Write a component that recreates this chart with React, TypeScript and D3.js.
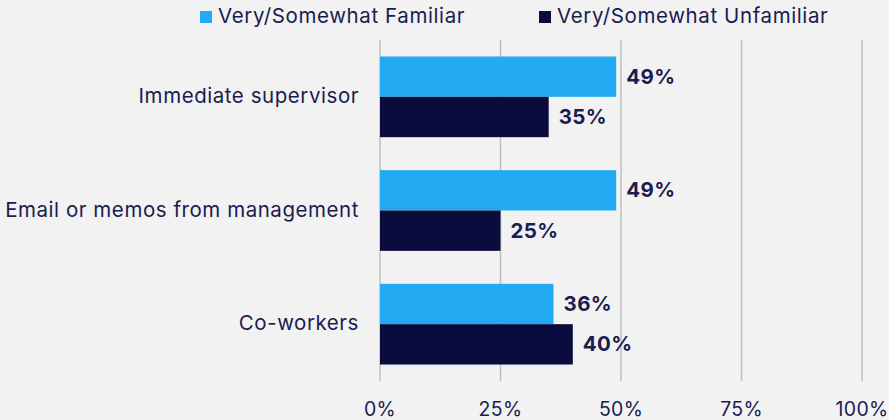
import React, { useRef, useEffect } from "react";
import * as d3 from "d3";

const categories = ["Immediate supervisor", "Email or memos from management", "Co-workers"];
const seriesNames = ["Very/Somewhat Familiar", "Very/Somewhat Unfamiliar"];
const familiar = [49, 49, 36];
const unfamiliar = [35, 25, 40];
const ticks = [0, 25, 50, 75, 100];
const colors = ["#22abf2", "#0a0c3e"];

const App = () => {
  const svgRef = useRef<SVGSVGElement>(null);

  useEffect(() => {
    document.body.style.margin = "0";
    const svg = d3.select(svgRef.current);
    svg.selectAll("*").remove();

    const width = 889;
    const height = 420;
    const font = "Inter, 'Noto Sans', sans-serif";
    const textColor = "#1b1c4f";

    svg.attr("width", width).attr("height", height);
    svg.append("rect").attr("width", width).attr("height", height).attr("fill", "#f2f2f2");

    const x = d3.scaleLinear().domain([0, 100]).range([380, 862]);
    const y = d3.scaleBand().domain(categories).range([40, 381]).paddingInner(0.29).paddingOuter(0.145);
    const sub = d3.scaleBand().domain(seriesNames).range([0, y.bandwidth()]);

    // gridlines
    svg.append("g")
      .selectAll("line")
      .data(ticks)
      .enter()
      .append("line")
      .attr("x1", d => x(d))
      .attr("x2", d => x(d))
      .attr("y1", 40)
      .attr("y2", 381)
      .attr("stroke", "#bfbfbf")
      .attr("stroke-width", 1.5);

    // tick labels
    svg.append("g")
      .selectAll("text")
      .data(ticks)
      .enter()
      .append("text")
      .attr("x", d => x(d))
      .attr("y", 416)
      .attr("text-anchor", "middle")
      .attr("font-family", font)
      .attr("font-size", "19.5px")
      .attr("letter-spacing", "0.3px")
      .attr("fill", textColor)
      .text(d => `${d}%`);

    const rows = categories.map((c, i) => ({ cat: c, values: [familiar[i], unfamiliar[i]] }));

    const groups = svg.append("g")
      .selectAll("g")
      .data(rows)
      .enter()
      .append("g")
      .attr("transform", d => `translate(0, ${y(d.cat)})`);

    groups.selectAll("rect")
      .data(d => d.values.map((v, j) => ({ v, s: seriesNames[j], j })))
      .enter()
      .append("rect")
      .attr("x", x(0))
      .attr("y", d => sub(d.s)!)
      .attr("width", d => x(d.v) - x(0))
      .attr("height", sub.bandwidth())
      .attr("fill", d => colors[d.j]);

    // value labels
    groups.selectAll("text.val")
      .data(d => d.values.map((v, j) => ({ v, s: seriesNames[j], j })))
      .enter()
      .append("text")
      .attr("class", "val")
      .attr("x", d => x(d.v) + 10)
      .attr("y", d => sub(d.s)! + sub.bandwidth() / 2)
      .attr("dy", "0.34em")
      .attr("font-family", font)
      .attr("font-weight", 700)
      .attr("font-size", "20.5px")
      .attr("letter-spacing", "0.4px")
      .attr("fill", textColor)
      .text(d => `${d.v}%`);

    // category labels
    svg.append("g")
      .selectAll("text")
      .data(categories)
      .enter()
      .append("text")
      .attr("x", 359)
      .attr("y", d => y(d)! + y.bandwidth() / 2)
      .attr("dy", "0.3em")
      .attr("text-anchor", "end")
      .attr("font-family", font)
      .attr("font-size", "20.5px")
      .attr("letter-spacing", "0.55px")
      .attr("fill", textColor)
      .text(d => d);

    // legend
    const legendX = [200, 539];
    const legend = svg.append("g")
      .selectAll("g")
      .data(seriesNames)
      .enter()
      .append("g")
      .attr("transform", (d, i) => `translate(${legendX[i]}, 0)`);
    legend.append("rect")
      .attr("x", 0)
      .attr("y", 11)
      .attr("width", 12)
      .attr("height", 12)
      .attr("fill", (d, i) => colors[i]);
    legend.append("text")
      .attr("x", 18)
      .attr("y", 23)
      .attr("font-family", font)
      .attr("font-size", "20.5px")
      .attr("letter-spacing", "0.6px")
      .attr("fill", textColor)
      .text(d => d);
  }, []);

  return <svg ref={svgRef}></svg>;
};

export default App;
